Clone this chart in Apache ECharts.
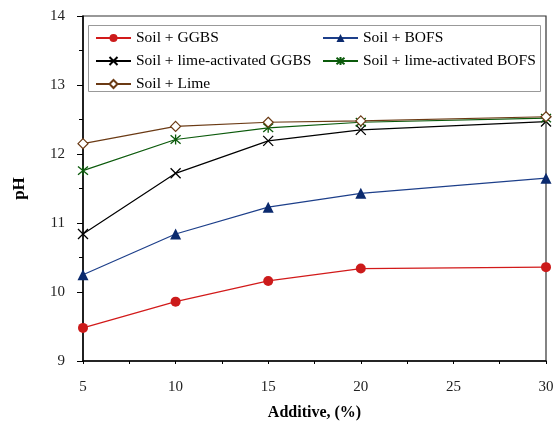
<!DOCTYPE html>
<html><head><meta charset="utf-8">
<script src="https://cdn.jsdelivr.net/npm/echarts@6/dist/echarts.min.js"></script>
<style>html,body{margin:0;padding:0;background:#fff}#c{width:555px;height:423px}</style>
</head><body><div id="c"></div>
<script>
var additive = [5, 10, 15, 20, 30];
var ggbs = [9.48, 9.86, 10.16, 10.34, 10.36];
var bofs = [10.25, 10.84, 11.23, 11.43, 11.65];
var limeGgbs = [10.84, 11.72, 12.19, 12.35, 12.47];
var limeBofs = [11.76, 12.21, 12.38, 12.46, 12.52];
var lime = [12.15, 12.40, 12.46, 12.48, 12.54];
var names = ['Soil + GGBS', 'Soil + BOFS', 'Soil + lime-activated GGBS', 'Soil + lime-activated BOFS', 'Soil + Lime'];

function pairs(v){ return additive.map(function(x,i){ return [x, v[i]]; }); }
var serif = 'Liberation Serif, Times New Roman, serif';
var cross = 'path://M0,0L10,10M10,0L0,10';
var star = 'path://M0,0L10,10M10,0L0,10M5,-1L5,11';

var chart = echarts.init(document.getElementById('c'));
chart.setOption({
  animation: false,
  grid: {left: 83, right: 9, top: 16, bottom: 62, show: true, borderColor: '#333', borderWidth: 1.2,
         containLabel: false, outerBoundsMode: 'none'},
  xAxis: {
    type: 'value', min: 5, max: 30, interval: 5,
    name: 'Additive, (%)', nameLocation: 'middle', nameGap: 44,
    nameTextStyle: {fontFamily: serif, fontWeight: 'bold', fontSize: 16, color: '#000'},
    axisLine: {lineStyle: {color: '#000', width: 1.5}},
    axisTick: {length: 3, lineStyle: {color: '#000'}},
    minorTick: {show: true, splitNumber: 2, length: 3, lineStyle: {color: '#000'}},
    splitLine: {show: false},
    axisLabel: {fontFamily: serif, fontSize: 15, color: '#222', margin: 19}
  },
  yAxis: {
    type: 'value', min: 9, max: 14, interval: 1,
    name: 'pH', nameLocation: 'middle', nameGap: 55,
    nameTextStyle: {fontFamily: serif, fontWeight: 'bold', fontSize: 17, color: '#000'},
    axisLine: {show: true, lineStyle: {color: '#000', width: 1.5}},
    axisTick: {show: true, length: 6, lineStyle: {color: '#000'}},
    minorTick: {show: true, splitNumber: 2, length: 4, lineStyle: {color: '#000'}},
    splitLine: {show: false},
    axisLabel: {fontFamily: serif, fontSize: 15, color: '#222', margin: 18}
  },
  graphic: [{type: 'rect', left: 88, top: 25, shape: {width: 452, height: 66}, style: {fill: '#fff', stroke: '#999', lineWidth: 1}, z: 10}],
  legend: [
    {data: [names[0], names[2], names[4]], orient: 'vertical', left: 95, top: 30, padding: 0, itemGap: 7, itemWidth: 35, itemHeight: 10,
     textStyle: {fontFamily: serif, fontSize: 15.5, color: '#000'}, z: 20},
    {data: [names[1], names[3]], orient: 'vertical', left: 322, top: 30, padding: 0, itemGap: 7, itemWidth: 35, itemHeight: 10,
     textStyle: {fontFamily: serif, fontSize: 15.5, color: '#000'}, z: 20}
  ],
  series: [
    {name: names[0], type: 'line', data: pairs(ggbs), symbol: 'circle', symbolSize: 10,
     lineStyle: {color: '#d21a1a', width: 1.2}, itemStyle: {color: '#cc1b1b'}},
    {name: names[1], type: 'line', data: pairs(bofs), symbol: 'triangle', symbolSize: 11,
     lineStyle: {color: '#1d3f8a', width: 1.2}, itemStyle: {color: '#0b2a6e'}},
    {name: names[2], type: 'line', data: pairs(limeGgbs), symbol: cross, symbolSize: 10,
     lineStyle: {color: '#000', width: 1.2}, itemStyle: {color: '#000', borderColor: '#000', borderWidth: 1.3}},
    {name: names[3], type: 'line', data: pairs(limeBofs), symbol: star, symbolSize: 10,
     lineStyle: {color: '#0b5a0b', width: 1.2}, itemStyle: {color: '#0b5a0b', borderColor: '#0b5a0b', borderWidth: 1.3}},
    {name: names[4], type: 'line', data: pairs(lime), symbol: 'diamond', symbolSize: 10,
     lineStyle: {color: '#6b3a14', width: 1.2}, itemStyle: {color: '#fff', borderColor: '#6b3a14', borderWidth: 1.2}}
  ]
});
</script></body></html>
